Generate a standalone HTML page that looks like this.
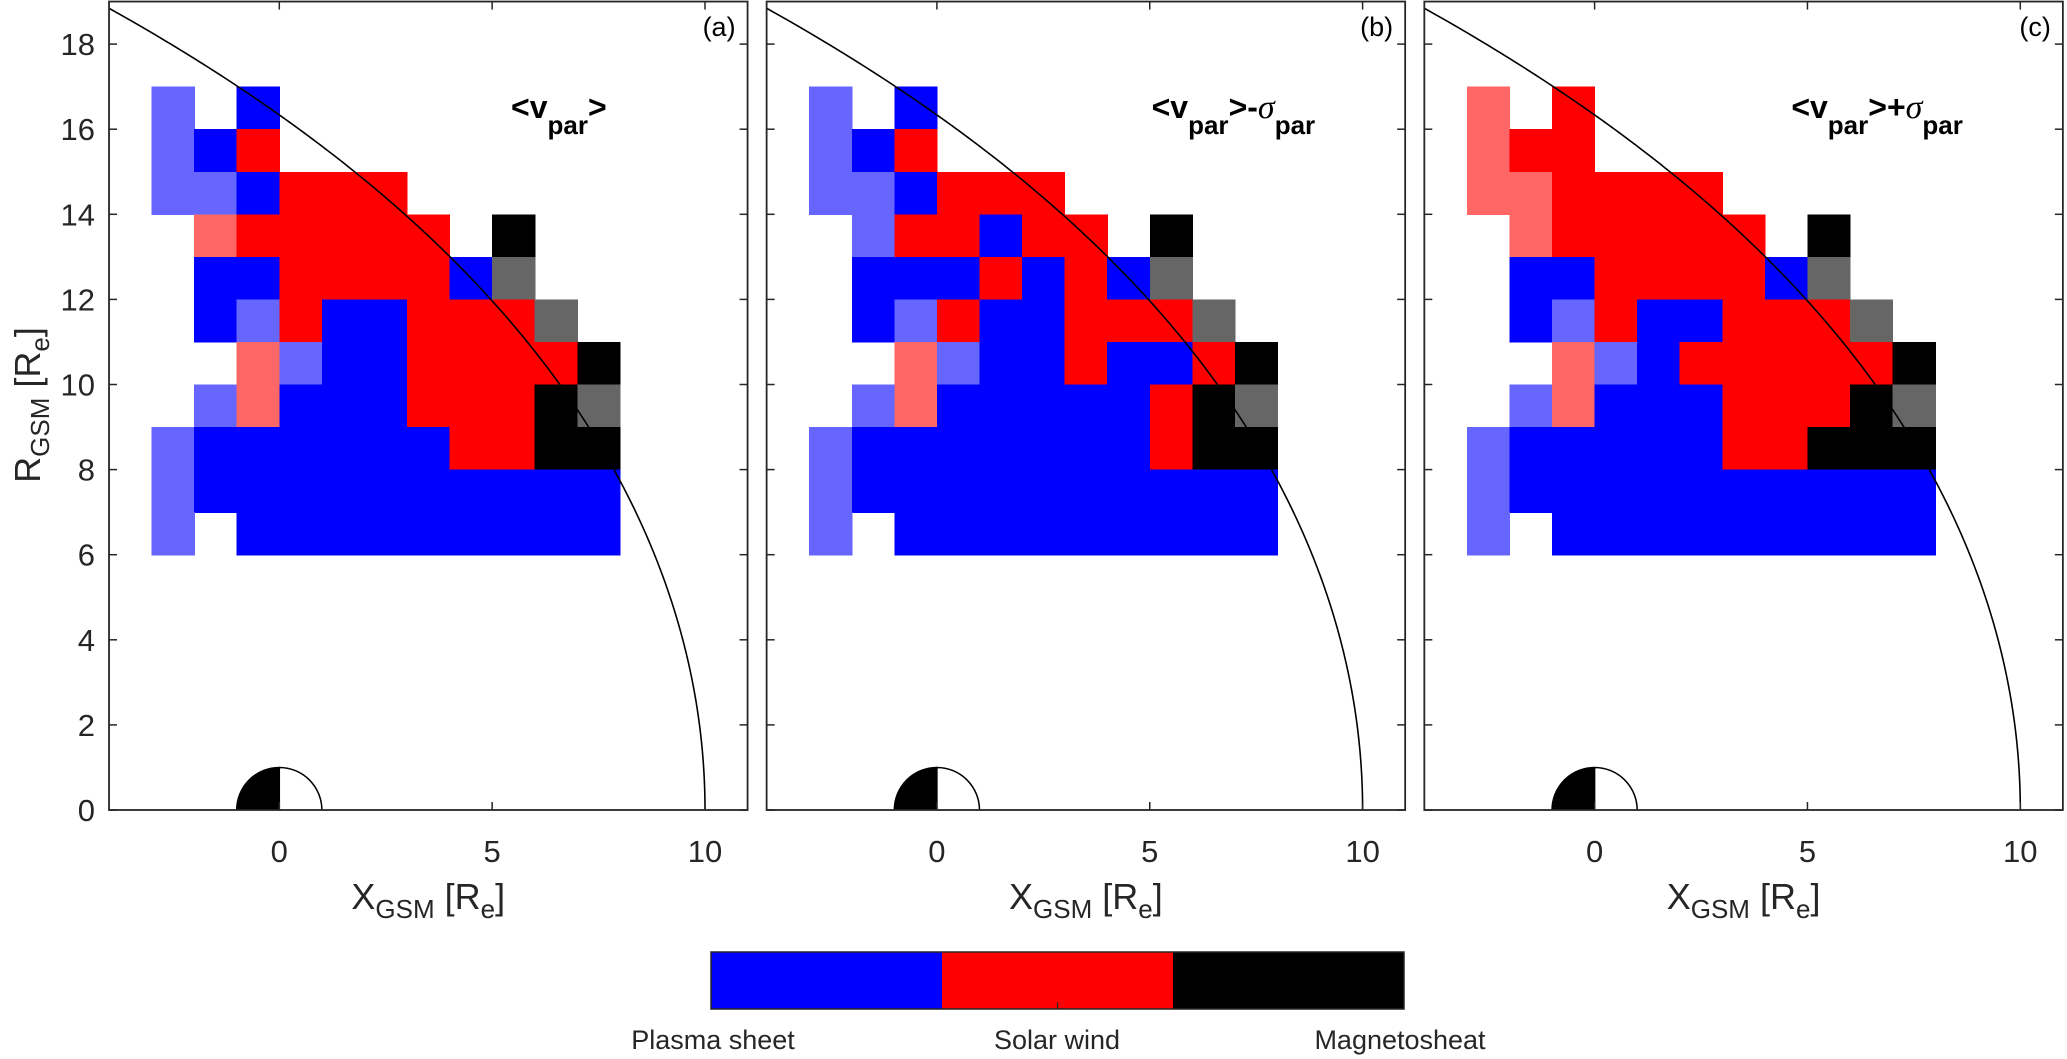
<!DOCTYPE html>
<html><head><meta charset="utf-8">
<style>
html,body{margin:0;padding:0;background:#fff;}
svg{display:block;font-family:"Liberation Sans",Arial,sans-serif;}
</style></head>
<body>
<svg id="s" width="2067" height="1059" viewBox="0 0 2067 1059" xmlns="http://www.w3.org/2000/svg">
  <!-- y axis label -->
  <text transform="translate(40,405) rotate(-90)" font-size="36" fill="#262626" text-anchor="middle">R<tspan font-size="26" dy="9">GSM</tspan><tspan dy="-9"> [R</tspan><tspan font-size="26" dy="9">e</tspan><tspan dy="-9">]</tspan></text>
  <!-- colorbar -->
  <rect x="711" y="952" width="231" height="57" fill="#0000ff"/>
  <rect x="942" y="952" width="231" height="57" fill="#ff0000"/>
  <rect x="1173" y="952" width="231" height="57" fill="#000"/>
  <rect x="711" y="952" width="693" height="57" fill="none" stroke="#262626" stroke-width="1.5"/>
  <line x1="1057.5" y1="1009" x2="1057.5" y2="1002" stroke="#262626" stroke-width="1.2"/>
  <text x="713" y="1049" font-size="27" fill="#262626" text-anchor="middle">Plasma sheet</text>
  <text x="1057" y="1049" font-size="27" fill="#262626" text-anchor="middle">Solar wind</text>
  <text x="1400" y="1049" font-size="27" fill="#262626" text-anchor="middle">Magnetosheat</text>
</svg>
<script>
(function(){
var NS="http://www.w3.org/2000/svg";
var svg=document.getElementById('s');
function el(t,a,p){var e=document.createElementNS(NS,t);for(var k in a)e.setAttribute(k,a[k]);(p||svg).appendChild(e);return e;}
var U=42.57, UY=42.55, Y0=810;
var offs=[0,657.6,1315.3];
var cols={B:'#0000ff',R:'#ff0000',b:'#6666ff',r:'#ff6666',G:'#666666',K:'#000000'};
var grids=[
["b.B........","bBR........","bbBRRR.....",".rRRRRR.K..",".BBRRRRBG..",".BbRBBRRRG.","..rbBBRRRRK",".brBBBRRRKG","bBBBBBBRRKK","bBBBBBBBBBB","b.BBBBBBBBB"],
["b.B........","bBR........","bbBRRR.....",".bRRBRR.K..",".BBBRBRBG..",".BbRBBRRRG.","..rbBBRBBRK",".brBBBBBRKG","bBBBBBBBRKK","bBBBBBBBBBB","b.BBBBBBBBB"],
["r.R........","rRR........","rrRRRR.....",".rRRRRR.K..",".BBRRRRBG..",".BbRBBRRRG.","..rbBRRRRRK",".brBBBRRRKG","bBBBBBRRKKK","bBBBBBBBBBB","b.BBBBBBBBB"]
];
var titles=[["",""],["-",""],["+",""]];
var labs=["(a)","(b)","(c)"];
for(var p=0;p<3;p++){
  var ox=279.3+offs[p];
  var X=function(x){return ox+x*U;};
  var Y=function(y){return Y0-y*UY;};
  var g=el('g',{'shape-rendering':'crispEdges'});
  var gr=grids[p];
  for(var r=0;r<gr.length;r++){
    var yv=16-r;
    for(var c=0;c<11;c++){
      var ch=gr[r][c]; if(ch=='.')continue;
      var xv=c-3;
      el('rect',{x:X(xv).toFixed(2),y:Y(yv+1).toFixed(2),width:(U+0.6).toFixed(2),height:(UY+0.6).toFixed(2),fill:cols[ch]},g);
    }
  }
  // clip
  var cid='c'+p;
  var cp=el('clipPath',{id:cid});
  el('rect',{x:X(-4),y:Y(19),width:15*U,height:19*UY},cp);
  // curve
  var d='';
  for(var i=0;i<=400;i++){
    var th=i/400*2.2;
    var rr=10*Math.pow(2/(1+Math.cos(th)),0.708);
    var x=rr*Math.cos(th),y=rr*Math.sin(th);
    d+=(i?'L':'M')+X(x).toFixed(2)+' '+Y(y).toFixed(2);
  }
  el('path',{d:d,fill:'none',stroke:'#000','stroke-width':1.6,'clip-path':'url(#'+cid+')'});
  // earth
  el('path',{d:'M'+X(0)+' '+Y(0)+' L'+X(-1)+' '+Y(0)+' A'+U+' '+UY+' 0 0 1 '+X(0)+' '+Y(1)+' Z',fill:'#000'});
  el('path',{d:'M'+X(0)+' '+Y(0)+' L'+X(0)+' '+Y(1)+' A'+U+' '+UY+' 0 0 1 '+X(1)+' '+Y(0),fill:'#fff',stroke:'#000','stroke-width':1.5});
  el('path',{d:'M'+X(-1)+' '+Y(0)+' A'+U+' '+UY+' 0 0 1 '+X(0)+' '+Y(1),fill:'none',stroke:'#000','stroke-width':1.5});
  // box
  var L=X(-4),R=X(11),T=Y(19),B=Y(0);
  el('rect',{x:L,y:T,width:R-L,height:B-T,fill:'none',stroke:'#262626','stroke-width':1.8});
  for(var yt=0;yt<=18;yt+=2){
    el('line',{x1:L,y1:Y(yt),x2:L+8,y2:Y(yt),stroke:'#262626','stroke-width':1.5});
    el('line',{x1:R,y1:Y(yt),x2:R-8,y2:Y(yt),stroke:'#262626','stroke-width':1.5});
    if(p==0){var t=el('text',{x:L-14,y:Y(yt)+11,'font-size':31,fill:'#262626','text-anchor':'end'});t.textContent=yt;}
  }
  [0,5,10].forEach(function(xt){
    el('line',{x1:X(xt),y1:B,x2:X(xt),y2:B-8,stroke:'#262626','stroke-width':1.5});
    el('line',{x1:X(xt),y1:T,x2:X(xt),y2:T+8,stroke:'#262626','stroke-width':1.5});
    var t=el('text',{x:X(xt),y:862,'font-size':31,fill:'#262626','text-anchor':'middle'});t.textContent=xt;
  });
  // x label
  var xl=el('text',{x:(L+R)/2,y:909,'font-size':36,fill:'#262626','text-anchor':'middle'});
  xl.innerHTML='X<tspan font-size="26" dy="9">GSM</tspan><tspan dy="-9"> [R</tspan><tspan font-size="26" dy="9">e</tspan><tspan dy="-9">]</tspan>';
  // panel label
  var pl=el('text',{x:R-12,y:36,'font-size':27,fill:'#000','text-anchor':'end'});pl.textContent=labs[p];
  // title
  var tx=[L+402,L+385,L+367][p];
  var tt=el('text',{x:tx,y:118,'font-size':32,'font-weight':'bold',fill:'#000'});
  var h='&lt;v<tspan font-size="26" dy="16">par</tspan><tspan dy="-16">&gt;</tspan>';
  if(p>0){h+='<tspan>'+(p==1?'-':'+')+'</tspan><tspan font-family="Liberation Serif,serif" font-style="italic" font-weight="normal" font-size="34">σ</tspan><tspan font-size="26" dy="16">par</tspan>';}
  tt.innerHTML=h;
}
})();
</script>
</body></html>
